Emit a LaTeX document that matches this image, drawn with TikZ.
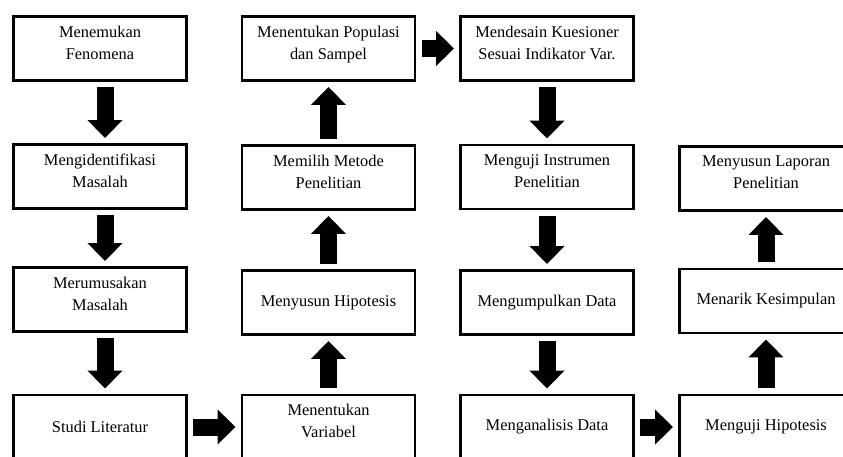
\documentclass[tikz,border=0pt]{standalone}
\usepackage{fontspec}
\setmainfont{Liberation Serif}
\usepackage{tikz}
\usetikzlibrary{arrows.meta}
\tikzset{
  box/.style={rectangle,draw=black,line width=2.2pt,minimum width=5.2cm,minimum height=1.93cm,inner sep=0pt,align=center,font=\fontsize{14pt}{19pt}\selectfont},
  twoline/.style={text depth=0.36cm},
  flow/.style={-{Triangle[length=0.54cm,width=1.02cm]},line width=0.51cm,black,shorten <=0.16cm,shorten >=0.15cm},
}
\begin{document}
\begin{tikzpicture}[x=0.03cm,y=-0.03cm]
  \useasboundingbox (0,0) rectangle (843,457);
  \clip (0,0) rectangle (843,457);
  \node[box,twoline](fenomena) at (100,48.5){Menemukan\\Fenomena};
  \node[box,twoline](masalah) at (100,176.5){Mengidentifikasi\\Masalah};
  \node[box,twoline](rumusan) at (100,299.5){Merumusakan\\Masalah};
  \node[box](literatur) at (100,427){Studi Literatur};
  \node[box,twoline](variabel) at (328.5,427){Menentukan\\Variabel};
  \node[box](hipotesis) at (328.5,302.5){Menyusun Hipotesis};
  \node[box,twoline](metode) at (328.5,177.5){Memilih Metode\\Penelitian};
  \node[box,twoline](populasi) at (328.5,48.5){Menentukan Populasi\\dan Sampel};
  \node[box,twoline](kuesioner) at (547,48.5){Mendesain Kuesioner\\Sesuai Indikator Var.};
  \node[box,twoline](instrumen) at (547,177){Menguji Instrumen\\Penelitian};
  \node[box](kumpul) at (547,302.5){Mengumpulkan Data};
  \node[box](analisis) at (547,427){Menganalisis Data};
  \node[box](uji) at (766,427){Menguji Hipotesis};
  \node[box](simpulan) at (766,301){Menarik Kesimpulan};
  \node[box,twoline](laporan) at (766,178.5){Menyusun Laporan\\Penelitian};
  % alur penelitian
  \foreach \a/\b in {fenomena/masalah,masalah/rumusan,rumusan/literatur}
    {\draw[flow] ([xshift=0.15cm]\a.south) -- ([xshift=0.15cm]\b.north);}
  \foreach \a/\b in {kuesioner/instrumen,instrumen/kumpul,kumpul/analisis}
    {\draw[flow] (\a.south) -- (\b.north);}
  \foreach \a/\b in {variabel/hipotesis,hipotesis/metode,metode/populasi,uji/simpulan,simpulan/laporan}
    {\draw[flow] (\a.north) -- (\b.south);}
  \foreach \a/\b in {literatur/variabel,populasi/kuesioner,analisis/uji}
    {\draw[flow] (\a.east) -- (\b.west);}
\end{tikzpicture}
\end{document}
